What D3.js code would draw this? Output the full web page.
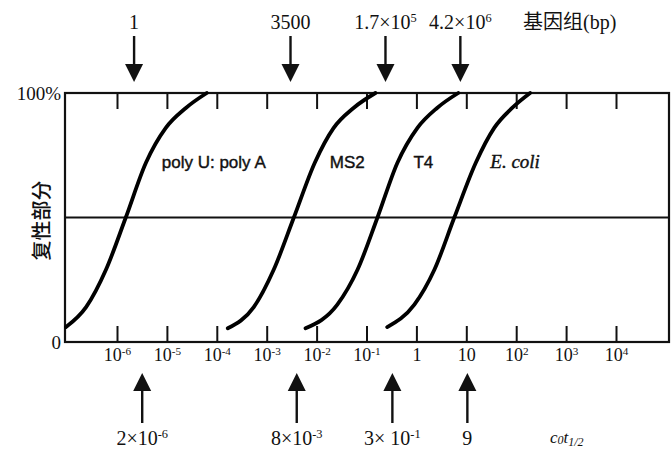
<!DOCTYPE html>
<html>
<head>
<meta charset="utf-8">
<script src="https://cdn.jsdelivr.net/npm/d3@7"></script>
<style>
  body { margin: 0; background: #fff; }
  svg { display: block; }
</style>
</head>
<body>
<script>
// tick values on the Cot axis and their labels ("^" marks a superscript)
const tickValues = [1e-6, 1e-5, 1e-4, 1e-3, 1e-2, 1e-1, 1, 10, 1e2, 1e3, 1e4]
const tickLabels = ["10^-6", "10^-5", "10^-4", "10^-3", "10^-2", "10^-1", "1", "10", "10^2", "10^3", "10^4"]
const yLabels = ["0", "100%"]

const series = ["poly U: poly A", "MS2", "T4", "E. coli"]

// genome size (top arrows)
const genomeLabels = ["1", "3500", "1.7×10^5", "4.2×10^6"]
const genomeArrowCot = [2.2e-6, 3.0e-3, 0.24, 7.6]

// Cot1/2 (bottom arrows)
const halfLabels = ["2×10^-6", "8×10^-3", "3× 10^-1", "9"]
const halfArrowCot = [3.2e-6, 4.0e-3, 0.33, 10.5]

// curves: Cot and fraction reassociated
const cotPolyU = [9.5e-8, 2.4e-7, 6.0e-7, 1.5e-6, 3.8e-6, 9.5e-6, 2.4e-5, 6.3e-5]
const fracPolyU = [0.06, 0.14, 0.29, 0.50, 0.72, 0.86, 0.94, 1.00]
const cotMS2 = [1.66e-4, 5.5e-4, 1.38e-3, 3.5e-3, 9.2e-3, 2.2e-2, 5.5e-2, 0.151]
const fracMS2 = [0.055, 0.14, 0.29, 0.50, 0.72, 0.86, 0.94, 1.00]
const cotT4 = [6.0e-3, 2.6e-2, 6.6e-2, 0.166, 0.417, 1.05, 2.6, 6.9]
const fracT4 = [0.055, 0.15, 0.29, 0.50, 0.72, 0.86, 0.94, 1.00]
const cotEcoli = [0.26, 0.91, 2.29, 5.75, 15.5, 36.3, 83, 190]
const fracEcoli = [0.06, 0.15, 0.29, 0.50, 0.72, 0.86, 0.94, 1.00]

const curves = [
  { name: series[0], cot: cotPolyU, frac: fracPolyU },
  { name: series[1], cot: cotMS2, frac: fracMS2 },
  { name: series[2], cot: cotT4, frac: fracT4 },
  { name: series[3], cot: cotEcoli, frac: fracEcoli }
]

const width = 672
const height = 452
const margin = { left: 65, right: 669, top: 93, bottom: 342 }
const serif = "'Liberation Serif', 'DejaVu Serif', serif"
const cjk = "'Noto Sans CJK SC', sans-serif"

const svg = d3.select('body')
  .append('svg')
  .attr('width', width)
  .attr('height', height)
  .attr('viewBox', [0, 0, width, height])

svg.append('rect').attr('width', width).attr('height', height).attr('fill', '#fff')

const x = d3.scaleLog()
  .domain([1e-6, 1e4])
  .range([117, 616])

const y = d3.scaleLinear()
  .domain([0, 1])
  .range([margin.bottom, margin.top])

// writes "10^-6" style text into a <text> as tspans
const richText = (sel, str) => {
  const parts = str.split('^')
  sel.text(null)
  sel.append('tspan').text(parts[0])
  if (parts.length > 1) {
    sel.append('tspan')
      .attr('dy', '-0.55em')
      .attr('font-size', '0.62em')
      .text(parts[1])
  }
}

// frame
svg.append('rect')
  .attr('x', margin.left).attr('y', margin.top)
  .attr('width', margin.right - margin.left).attr('height', margin.bottom - margin.top)
  .attr('fill', 'none')
  .attr('stroke', '#111')
  .attr('stroke-width', 2.2)

// 50% line
svg.append('line')
  .attr('x1', margin.left).attr('x2', margin.right)
  .attr('y1', y(0.5)).attr('y2', y(0.5))
  .attr('stroke', '#111')
  .attr('stroke-width', 1.8)

// bottom axis, ticks pointing in
const xAxis = svg.append('g')
  .attr('transform', `translate(0,${margin.bottom})`)
  .call(d3.axisBottom(x).tickValues(tickValues).tickSize(-16).tickSizeOuter(0).tickPadding(6)
    .tickFormat((d, i) => tickLabels[i]))
xAxis.select('.domain').remove()
xAxis.selectAll('line').attr('stroke', '#111').attr('stroke-width', 2)
xAxis.selectAll('text')
  .attr('font-family', serif)
  .attr('font-size', 18)
  .attr('fill', '#111')
  .each(function (d, i) { richText(d3.select(this), tickLabels[i]) })

// top axis, ticks only
const topAxis = svg.append('g')
  .attr('transform', `translate(0,${margin.top})`)
  .call(d3.axisTop(x).tickValues(tickValues).tickSize(-16).tickSizeOuter(0).tickFormat(''))
topAxis.select('.domain').remove()
topAxis.selectAll('line').attr('stroke', '#111').attr('stroke-width', 2)

// left labels
const yAxis = svg.append('g')
  .attr('transform', `translate(${margin.left},0)`)
  .call(d3.axisLeft(y).tickValues([0, 1]).tickSize(0).tickPadding(4)
    .tickFormat((d, i) => yLabels[i]))
yAxis.select('.domain').remove()
yAxis.selectAll('text')
  .attr('font-family', serif)
  .attr('font-size', 19)
  .attr('fill', '#111')

svg.append('text')
  .attr('transform', `translate(49,${y(0.5) + 3}) rotate(-90)`)
  .attr('text-anchor', 'middle')
  .attr('font-family', cjk)
  .attr('font-weight', 500)
  .attr('font-size', 20)
  .attr('fill', '#111')
  .text('复性部分')

// curves
const line = d3.line()
  .x(d => x(d[0]))
  .y(d => y(d[1]))
  .curve(d3.curveMonotoneX)

svg.append('g')
  .selectAll('path')
  .data(curves)
  .join('path')
    .attr('d', c => line(c.cot.map((v, i) => [v, c.frac[i]])))
    .attr('fill', 'none')
    .attr('stroke', '#000')
    .attr('stroke-width', 3.8)
    .attr('stroke-linecap', 'round')

// series names, placed to the right of each curve's midpoint
svg.append('g')
  .selectAll('text')
  .data(curves)
  .join('text')
    .attr('x', c => x(c.cot[3]) + 36)
    .attr('y', 168)
    .attr('font-family', (c, i) => i == 3 ? serif : "'Liberation Sans', Arial, sans-serif")
    .attr('font-style', (c, i) => i == 3 ? 'italic' : 'normal')
    .attr('font-size', (c, i) => i == 3 ? 19 : 17)
    .attr('fill', '#111')
    .attr('stroke', '#111')
    .attr('stroke-width', 0.4)
    .text(c => c.name)

// top arrows (genome size)
const topArrows = svg.append('g')
  .selectAll('g')
  .data(genomeArrowCot)
  .join('g')
    .attr('transform', d => `translate(${x(d)},0)`)
topArrows.append('line')
  .attr('y1', 36).attr('y2', 66)
  .attr('stroke', '#111').attr('stroke-width', 2.4)
topArrows.append('path')
  .attr('d', 'M-9,64L9,64L0,82Z')
  .attr('fill', '#111')
topArrows.append('text')
  .attr('y', 29)
  .attr('text-anchor', 'middle')
  .attr('font-family', serif)
  .attr('font-size', 20)
  .attr('fill', '#111')
  .each(function (d, i) { richText(d3.select(this), genomeLabels[i]) })

const genomeTitle = svg.append('text')
  .attr('x', 523).attr('y', 29)
  .attr('font-size', 20)
  .attr('fill', '#111')
genomeTitle.append('tspan').attr('font-family', cjk).text('基因组')
genomeTitle.append('tspan').attr('font-family', serif).text('(bp)')

// bottom arrows (Cot1/2)
const bottomArrows = svg.append('g')
  .selectAll('g')
  .data(halfArrowCot)
  .join('g')
    .attr('transform', d => `translate(${x(d)},0)`)
bottomArrows.append('line')
  .attr('y1', 389).attr('y2', 423)
  .attr('stroke', '#111').attr('stroke-width', 2.4)
bottomArrows.append('path')
  .attr('d', 'M0,373L9,391L-9,391Z')
  .attr('fill', '#111')
bottomArrows.append('text')
  .attr('y', 445)
  .attr('text-anchor', 'middle')
  .attr('font-family', serif)
  .attr('font-size', 20)
  .attr('fill', '#111')
  .each(function (d, i) { richText(d3.select(this), halfLabels[i]) })

// x title: C0t1/2
const xTitle = svg.append('text')
  .attr('x', 550).attr('y', 443)
  .attr('font-family', serif)
  .attr('font-style', 'italic')
  .attr('font-size', 17)
  .attr('fill', '#111')
xTitle.append('tspan').text('c')
xTitle.append('tspan').attr('font-size', 12).attr('dy', 1).text('0')
xTitle.append('tspan').attr('dy', -1).text('t')
xTitle.append('tspan').attr('font-size', 12).attr('dy', 3).text('1/2')
</script>
</body>
</html>
